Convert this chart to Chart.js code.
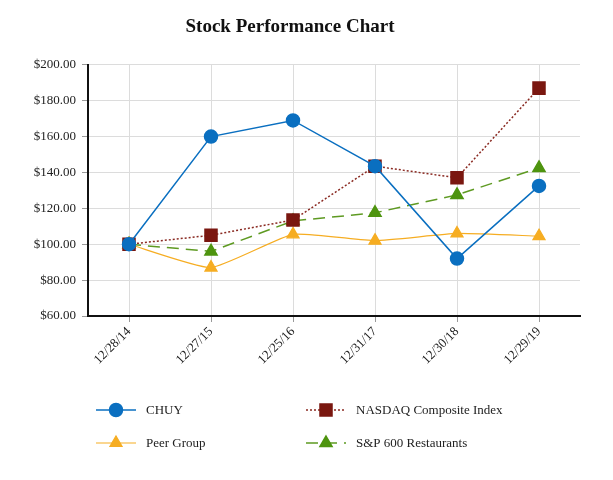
<!DOCTYPE html>
<html>
<head>
<meta charset="utf-8">
<script src="https://cdn.jsdelivr.net/npm/chart.js@4"></script>
<style>
  html, body { margin: 0; padding: 0; background: #fff; }
  #wrap { width: 613px; height: 480px; }
</style>
</head>
<body>
<div id="wrap"><canvas id="grafico"></canvas></div>
<script>
// --- DATOS ---
const fechas = ['12/28/14', '12/27/15', '12/25/16', '12/31/17', '12/30/18', '12/29/19'];
const chuy = [100, 160, 169, 143.5, 92, 132.5];
const nasdaq = [100, 105, 113.5, 143.5, 137, 187];
const peer = [100, 87, 105.5, 102, 106, 104.5];
const sp600 = [100, 96, 113, 117.5, 127.5, 142.5];
const yTicks = [60, 80, 100, 120, 140, 160, 180, 200];

const fuente = "'Liberation Serif', 'Times New Roman', serif";

// leyenda en dos columnas dibujada a mano
const leyenda = {
  id: 'leyenda',
  afterDraw(chart) {
    const ctx = chart.ctx;
    const cols = [96, 306];
    const rows = [410, 443];
    chart.data.datasets.forEach((ds, i) => {
      const x = cols[i % 2], y = rows[Math.floor(i / 2)];
      ctx.save();
      ctx.strokeStyle = ds.borderColor;
      ctx.lineWidth = ds.borderWidth;
      ctx.setLineDash(ds.borderDash || []);
      ctx.beginPath();
      ctx.moveTo(x, y);
      ctx.lineTo(x + 40, y);
      ctx.stroke();
      ctx.setLineDash([]);
      ctx.fillStyle = ds.pointBackgroundColor;
      ctx.strokeStyle = ds.pointBorderColor;
      Chart.helpers.drawPoint(ctx, {
        pointStyle: ds.pointStyle,
        radius: ds.pointRadius,
        borderWidth: 1
      }, x + 20, y);
      ctx.restore();
      ctx.save();
      ctx.fillStyle = '#222';
      ctx.font = '13px ' + fuente;
      ctx.textBaseline = 'middle';
      ctx.fillText(ds.label, x + 50, y + 1);
      ctx.restore();
    });
  }
};

function serie(label, data, color, style, radius, extra) {
  return Object.assign({
    label: label,
    data: data,
    borderColor: color,
    backgroundColor: color,
    pointBackgroundColor: color,
    pointBorderColor: color,
    pointStyle: style,
    pointRadius: radius,
    pointHoverRadius: radius,
    borderWidth: 1.5,
    tension: 0,
    fill: false
  }, extra || {});
}

const ctx = document.getElementById('grafico').getContext('2d');
new Chart(ctx, {
  type: 'line',
  data: {
    labels: fechas,
    datasets: [
      serie('CHUY', chuy, '#0a6fc0', 'circle', 6.5),
      serie('NASDAQ Composite Index', nasdaq, '#7a1710', 'rect', 8.5, { borderDash: [2, 2], borderColor: '#8a2a22' }),
      serie('Peer Group', peer, '#f6ad22', 'triangle', 7, { borderWidth: 1.2, tension: 0.15 }),
      serie('S&P 600 Restaurants', sp600, '#4e940f', 'triangle', 7, { borderDash: [12, 7], borderColor: '#5e9a22' })
    ]
  },
  options: {
    responsive: true,
    maintainAspectRatio: false,
    animation: false,
    layout: { padding: { left: 0, right: 33, top: 0, bottom: 100 } },
    plugins: {
      legend: { display: false },
      tooltip: { enabled: false },
      title: {
        display: true,
        text: 'Stock Performance Chart',
        color: '#111',
        font: { family: fuente, size: 19, weight: 'bold' },
        padding: { top: 16, bottom: 26 }
      }
    },
    scales: {
      x: {
        offset: true,
        border: { color: '#111', width: 2 },
        grid: { color: '#dcdcdc', tickColor: '#999', tickLength: 6, offset: false },
        ticks: {
          color: '#222',
          font: { family: fuente, size: 13 },
          minRotation: 45,
          maxRotation: 45,
          padding: 2
        },
        afterFit(scale) { scale.height = 64; }
      },
      y: {
        min: 60,
        max: 200,
        border: { color: '#111', width: 2 },
        grid: { color: '#dcdcdc', tickColor: '#999', tickLength: 6 },
        afterBuildTicks(scale) { scale.ticks = yTicks.map(v => ({ value: v })); },
        ticks: {
          color: '#222',
          font: { family: fuente, size: 13 },
          padding: 6,
          callback: v => '$' + Number(v).toFixed(2)
        },
        afterFit(scale) { scale.width = 88; }
      }
    }
  },
  plugins: [leyenda]
});
</script>
</body>
</html>
